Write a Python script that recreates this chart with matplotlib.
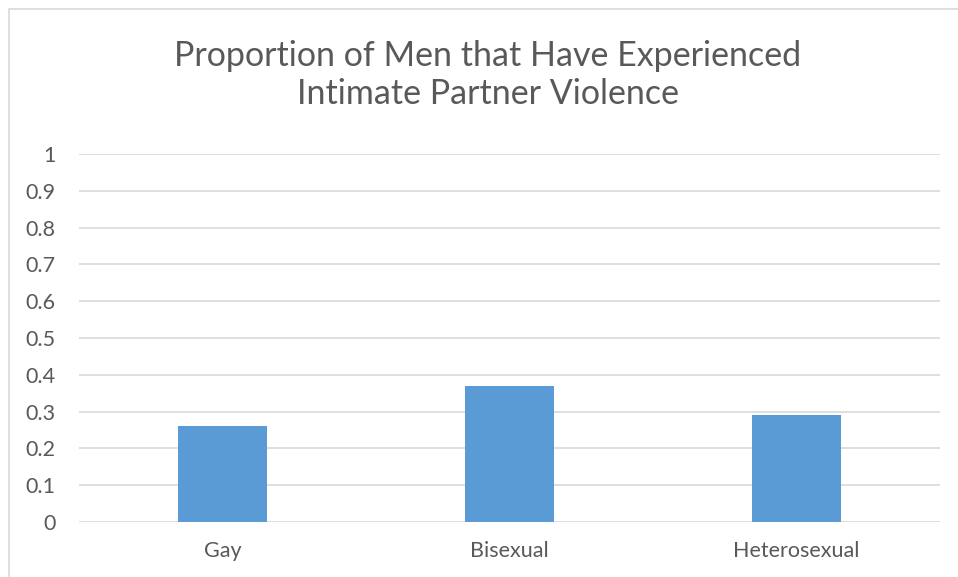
import matplotlib
matplotlib.use("Agg")
import matplotlib.pyplot as plt
from matplotlib.patches import Rectangle

categories = ["Gay", "Bisexual", "Heterosexual"]
values = [0.26, 0.37, 0.29]
yticks = [0, 0.1, 0.2, 0.3, 0.4, 0.5, 0.6, 0.7, 0.8, 0.9, 1]
ytick_labels = ["0", "0.1", "0.2", "0.3", "0.4", "0.5", "0.6", "0.7", "0.8", "0.9", "1"]
title = "Proportion of Men that Have Experienced\nIntimate Partner Violence"

plt.rcParams["font.family"] = ["Lato", "DejaVu Sans"]
txt = "#595959"
grid = "#d9d9d9"

fig = plt.figure(figsize=(9.58, 5.77), dpi=100)
fig.patches.append(Rectangle((9 / 958, -0.01), 1.0, 1 - 9 / 577 + 0.01,
                             transform=fig.transFigure, fill=False,
                             edgecolor=grid, linewidth=1.2))

ax = fig.add_axes([79 / 958, 1 - 522 / 577, (940 - 79) / 958, (522 - 154) / 577])
x = range(len(categories))
ax.bar(x, values, width=0.31, color="#5b9bd5", zorder=3)
ax.set_xlim(-0.5, len(categories) - 0.5)
ax.set_ylim(0, 1)
ax.set_yticks(yticks)
ax.set_yticklabels(ytick_labels)
ax.set_xticks(list(x))
ax.set_xticklabels(categories)
ax.grid(axis="y", color=grid, linewidth=1.2, zorder=0)
for s in ax.spines.values():
    s.set_visible(False)
ax.tick_params(length=0, labelsize=15.5, colors=txt)
ax.tick_params(axis="y", pad=17)
ax.tick_params(axis="x", pad=14)

fig.text(488 / 958, 1 - 75 / 577, title, ha="center", va="center",
         fontsize=24.5, color=txt, linespacing=1.2)

fig.savefig("out.png", dpi=100)
